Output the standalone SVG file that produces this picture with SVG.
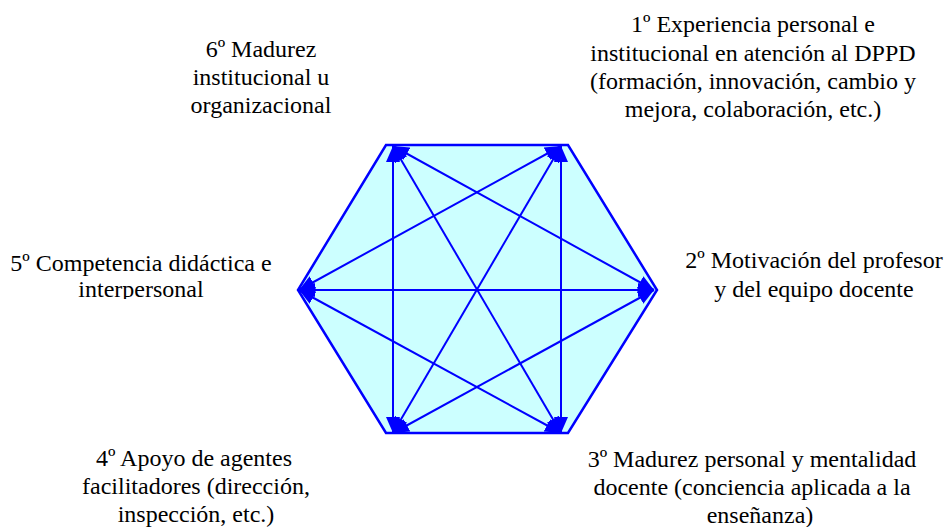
<svg xmlns="http://www.w3.org/2000/svg" width="945" height="527" viewBox="0 0 945 527" font-family="'Liberation Serif', 'Times New Roman', Times, serif">
<style>
.lbl{font-size:24px;fill:#000;text-anchor:middle}
.hex{fill:#ccffff;stroke:#0000ff;stroke-width:2.5}
.ln{stroke:#0000ff;stroke-width:2;fill:none;marker-start:url(#ah);marker-end:url(#ah)}
</style>
<defs>
<marker id="ah" markerUnits="userSpaceOnUse" markerWidth="18" markerHeight="16" refX="16" refY="8" orient="auto-start-reverse">
<path d="M0,1 L16,8 L0,15 z" fill="#0000ff"/>
</marker>
<clipPath id="clip5"><rect x="0" y="240" width="300" height="59"/></clipPath>
</defs>
<rect width="945" height="527" fill="#fff"/>
<g id="hexagon">
<polygon class="hex" points="386,145 568,145 657,290 568,433 386,433 298,290"/>
</g>
<g id="connectors">
<line class="ln" x1="393" y1="146" x2="654" y2="290"/>
<line class="ln" x1="393" y1="146" x2="561" y2="433"/>
<line class="ln" x1="393" y1="146" x2="393" y2="433"/>
<line class="ln" x1="561" y1="146" x2="561" y2="433"/>
<line class="ln" x1="561" y1="146" x2="393" y2="433"/>
<line class="ln" x1="561" y1="146" x2="299" y2="290"/>
<line class="ln" x1="654" y1="290" x2="393" y2="433"/>
<line class="ln" x1="654" y1="290" x2="299" y2="290"/>
<line class="ln" x1="561" y1="433" x2="299" y2="290"/>
</g>
<g id="node1">
<text class="lbl" x="753" y="32">1º Experiencia personal e</text>
<text class="lbl" x="753" y="61">institucional en atención al DPPD</text>
<text class="lbl" x="753" y="89">(formación, innovación, cambio y</text>
<text class="lbl" x="753" y="117">mejora, colaboración, etc.)</text>
</g>
<g id="node2">
<text class="lbl" x="814" y="268">2º Motivación del profesor</text>
<text class="lbl" x="814" y="297">y del equipo docente</text>
</g>
<g id="node3">
<text class="lbl" x="752" y="467">3º Madurez personal y mentalidad</text>
<text class="lbl" x="752" y="495">docente (conciencia aplicada a la</text>
<text class="lbl" x="760" y="523">enseñanza)</text>
</g>
<g id="node4">
<text class="lbl" x="194" y="466">4º Apoyo de agentes</text>
<text class="lbl" x="196" y="494">facilitadores (dirección,</text>
<text class="lbl" x="196" y="522">inspección, etc.)</text>
</g>
<g id="node5" clip-path="url(#clip5)">
<text class="lbl" x="141" y="271">5º Competencia didáctica e</text>
<text class="lbl" x="141" y="297">interpersonal</text>
</g>
<g id="node6">
<text class="lbl" x="261" y="57">6º Madurez</text>
<text class="lbl" x="261" y="85">institucional u</text>
<text class="lbl" x="261" y="113">organizacional</text>
</g>
</svg>
